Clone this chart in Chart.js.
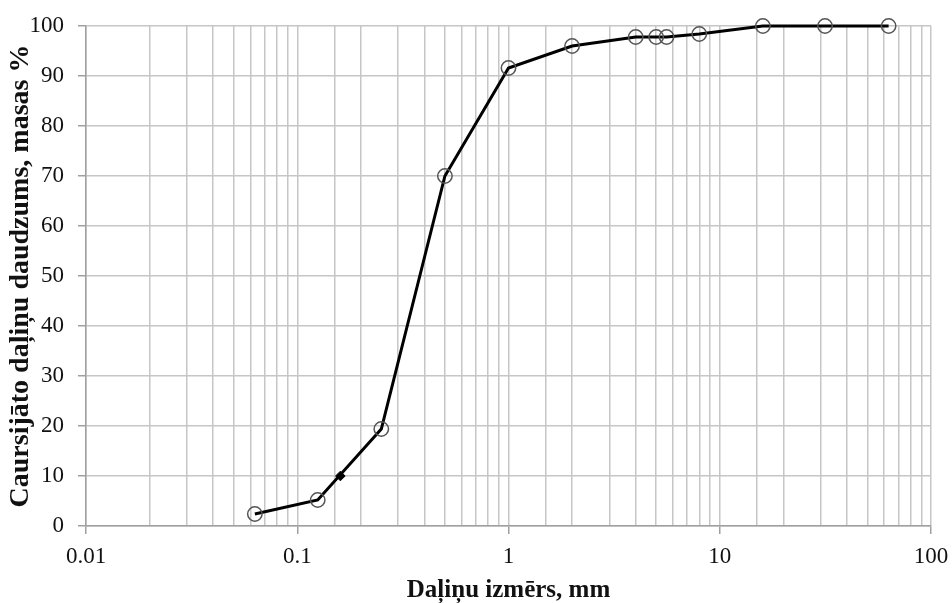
<!DOCTYPE html>
<html><head><meta charset="utf-8">
<script src="https://cdn.jsdelivr.net/npm/chart.js@4.4.0/dist/chart.umd.min.js"></script>
<style>html,body{margin:0;padding:0;background:#fff}#wrap{width:952px;height:603px}</style>
</head><body><div id="wrap"><canvas id="c" width="952" height="603"></canvas></div>
<script>
const particleSizes = [0.063, 0.125, 0.25, 0.5, 1, 2, 4, 5, 5.6, 8, 16, 31.5, 63];
const passingPercent = [2.4, 5.2, 19.4, 70, 91.6, 96, 97.8, 97.8, 97.8, 98.4, 100, 100, 100];
const d10Size = [0.16];
const d10Percent = [10];
const xTickLabels = ['0.01', '0.1', '1', '10', '100'];
const yTickValues = [0, 10, 20, 30, 40, 50, 60, 70, 80, 90, 100];

const isMajor = v => Math.abs(Math.log10(v) - Math.round(Math.log10(v))) < 1e-6;
const serif = "'Liberation Serif', 'Times New Roman', serif";

new Chart(document.getElementById('c'), {
  type: 'scatter',
  data: {
    datasets: [
      {
        data: particleSizes.map((x, i) => ({x: x, y: passingPercent[i]})),
        showLine: true,
        clip: false,
        borderColor: '#000',
        borderWidth: 3,
        pointStyle: 'circle',
        pointRadius: 7.2,
        pointBackgroundColor: 'rgba(255,255,255,0)',
        pointBorderColor: '#555',
        pointBorderWidth: 1.5,
        tension: 0
      },
      {
        data: d10Size.map((x, i) => ({x: x, y: d10Percent[i]})),
        showLine: false,
        clip: false,
        pointStyle: 'rectRot',
        pointRadius: 4.8,
        pointBackgroundColor: '#000',
        pointBorderColor: '#000',
        pointBorderWidth: 1
      }
    ]
  },
  options: {
    responsive: false,
    devicePixelRatio: 1,
    animation: false,
    layout: {autoPadding: false, padding: {left: 0, top: 26, right: 21, bottom: 0}},
    plugins: {legend: {display: false}, tooltip: {enabled: false}},
    scales: {
      x: {
        type: 'logarithmic',
        min: 0.01,
        max: 100,
        afterFit: s => { s.height = 77; s.paddingLeft = 0; s.paddingRight = 0; },
        grid: {
          color: '#c6c6c6',
          lineWidth: 1.5,
          tickLength: 8,
          tickColor: ctx => (ctx.tick && isMajor(ctx.tick.value)) ? '#a0a0a0' : 'rgba(0,0,0,0)',
          tickWidth: 1.5
        },
        border: {color: '#a0a0a0', width: 1.5},
        ticks: {
          autoSkip: false,
          maxRotation: 0,
          padding: 9,
          color: '#111',
          font: {family: serif, size: 23},
          callback: v => isMajor(v) ? xTickLabels[Math.round(Math.log10(v)) + 2] : ''
        },
        title: {
          display: true,
          text: 'Daļiņu izmērs, mm',
          color: '#111',
          font: {family: serif, size: 25, weight: 'bold', lineHeight: 1.0},
          padding: {top: 0, bottom: 0}
        }
      },
      y: {
        min: 0,
        max: 100,
        afterFit: s => { s.width = 86; s.paddingTop = 0; s.paddingBottom = 0; },
        afterBuildTicks: s => { s.ticks = yTickValues.map(v => ({value: v})); },
        grid: {
          color: '#c6c6c6',
          lineWidth: 1.5,
          tickLength: 8,
          tickColor: '#a0a0a0',
          tickWidth: 1.5
        },
        border: {color: '#a0a0a0', width: 1.5},
        ticks: {
          padding: 14,
          color: '#111',
          font: {family: serif, size: 23}
        },
        title: {
          display: true,
          text: 'Caursijāto daļiņu daudzums, masas %',
          color: '#111',
          font: {family: serif, size: 28, weight: 'bold'},
          padding: {top: 4, bottom: 0}
        }
      }
    }
  }
});
</script></body></html>
